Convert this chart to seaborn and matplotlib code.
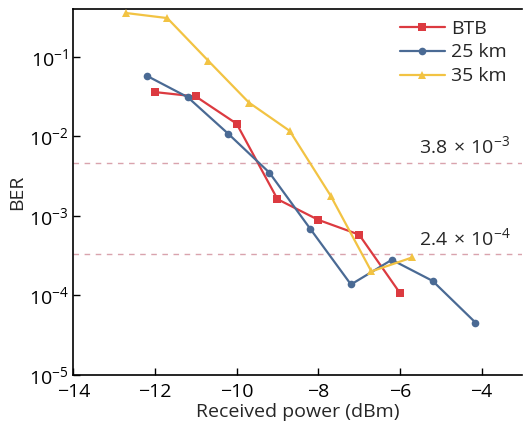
import numpy as np
import pandas as pd
import matplotlib
matplotlib.use("Agg")
import matplotlib.pyplot as plt
import seaborn as sns

# valores
x_btb = [-12, -11, -10, -9, -8, -7, -6]
ber_btb = [0.036, 0.0317, 0.0144, 1.62e-3, 8.9e-4, 5.8e-4, 1.07e-4]

x_25 = [-12.2, -11.2, -10.2, -9.2, -8.2, -7.2, -6.2, -5.2, -4.15]
ber_25 = [0.0577, 0.0311, 0.0107, 3.5e-3, 6.9e-4, 1.37e-4, 2.8e-4, 1.52e-4, 4.55e-5]

x_35 = [-12.7, -11.7, -10.7, -9.7, -8.7, -7.7, -6.7, -5.7]
ber_35 = [0.355, 0.307, 0.0897, 0.0266, 0.0117, 1.8e-3, 2.0e-4, 3.0e-4]

series = ['BTB', '25 km', '35 km']
umbrales = [4.6e-3, 3.3e-4]
umbral_txt = [r'$3.8\,\times\,10^{-3}$', r'$2.4\,\times\,10^{-4}$']

sns.set_style('ticks')
plt.rcParams['font.family'] = ['Open Sans', 'DejaVu Sans']
plt.rcParams['mathtext.fontset'] = 'custom'
plt.rcParams['mathtext.rm'] = 'Open Sans'
plt.rcParams['mathtext.it'] = 'Open Sans'
plt.rcParams['mathtext.default'] = 'regular'

df = pd.concat([
    pd.DataFrame({'x': x_btb, 'ber': ber_btb, 'serie': 'BTB'}),
    pd.DataFrame({'x': x_25, 'ber': ber_25, 'serie': '25 km'}),
    pd.DataFrame({'x': x_35, 'ber': ber_35, 'serie': '35 km'}),
], ignore_index=True)

colores = {'BTB': '#dc3a40', '25 km': '#4a6a94', '35 km': '#f2c343'}
marcas = {'BTB': 's', '25 km': 'o', '35 km': '^'}

fig = plt.figure(figsize=(5.24, 4.26), dpi=100)
ax = fig.add_axes([0.14, 0.12, 0.857, 0.859])

for yv in umbrales:
    ax.axhline(yv, color='#d9a3ad', lw=1.0, ls=(0, (4, 4)), zorder=1)

sns.lineplot(data=df, x='x', y='ber', hue='serie', style='serie',
             hue_order=series, style_order=series,
             palette=colores, markers=marcas, dashes=False,
             markersize=5.5, markeredgewidth=0, linewidth=1.6,
             sort=False, ax=ax, zorder=3)

ax.set_yscale('log')
ax.set_xlim(-14, -3)
ax.set_ylim(1e-5, 0.4)
ax.set_xticks([-14, -12, -10, -8, -6, -4])
ax.set_yticks([1e-5, 1e-4, 1e-3, 1e-2, 1e-1])
ax.yaxis.set_minor_locator(matplotlib.ticker.NullLocator())
ax.tick_params(direction='in', length=5, width=1.0, labelsize=14, colors='black')
ax.tick_params(axis='x', pad=6)
ax.spines['right'].set_visible(False)
for s in ['left', 'bottom', 'top']:
    ax.spines[s].set_linewidth(1.2)
    ax.spines[s].set_color('black')

ax.text(-3.3, 7.6e-3, umbral_txt[0], ha='right', va='center', fontsize=14)
ax.text(-3.3, 5.3e-4, umbral_txt[1], ha='right', va='center', fontsize=14)

ax.set_xlabel('Received power (dBm)', fontsize=14, labelpad=1)
ax.set_ylabel('BER', fontsize=14, labelpad=2)

h, l = ax.get_legend_handles_labels()
ax.legend(h, l, loc='upper right', bbox_to_anchor=(0.99, 1.0), frameon=False,
          fontsize=14, handlelength=2.3, handletextpad=0.35, labelspacing=0.3,
          borderaxespad=0.15)

plt.savefig('out.png', dpi=100)
